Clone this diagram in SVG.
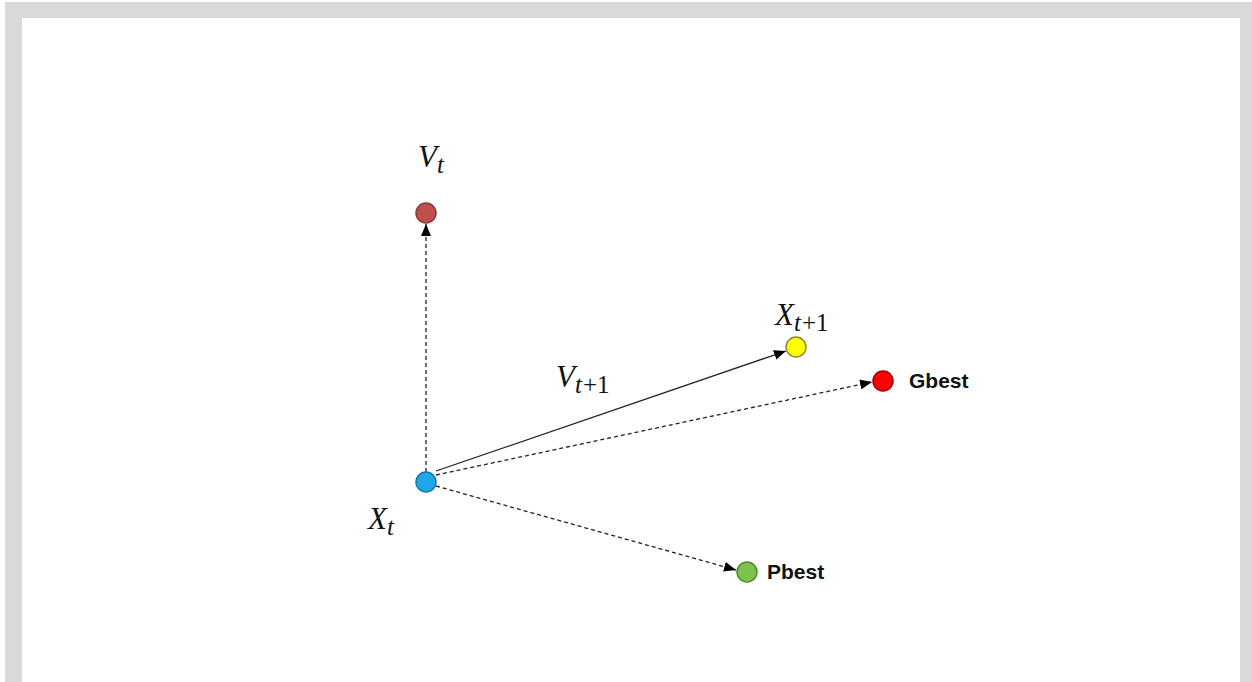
<svg xmlns="http://www.w3.org/2000/svg" width="1252" height="682" viewBox="0 0 1252 682">
<defs>
<marker id="arr" viewBox="0 0 12 10" refX="12" refY="5" markerWidth="12" markerHeight="10" markerUnits="userSpaceOnUse" orient="auto">
<path d="M0,0 L12,5 L0,10 z" fill="#000"/>
</marker>
<style>
.math{font-family:"Liberation Serif","DejaVu Serif",serif;font-style:italic;fill:#111;font-size:31px}
.sub{font-size:25px}
.up{font-style:normal}
.lbl{font-family:"Liberation Sans",Arial,sans-serif;font-weight:bold;font-size:21px;fill:#111}
.dash{stroke:#222;stroke-width:1.3;stroke-dasharray:4,3;fill:none}
.solid{stroke:#222;stroke-width:1.3;fill:none}
</style>
</defs>
<rect x="0" y="0" width="1252" height="682" fill="#fff"/>
<path d="M5,2 H1252 V682 H1240 V18 H22 V682 H5 Z" fill="#d9d9d9"/>
<g id="connectors">
<line class="dash" x1="426" y1="472" x2="426" y2="224" marker-end="url(#arr)"/>
<line class="solid" x1="436" y1="471" x2="786" y2="351" marker-end="url(#arr)"/>
<line class="dash" x1="436" y1="475" x2="872" y2="382" marker-end="url(#arr)"/>
<line class="dash" x1="436" y1="486" x2="736" y2="570" marker-end="url(#arr)"/>
</g>
<g id="node-vt">
<circle cx="426" cy="213" r="10" fill="#c0504d" stroke="#8c3836" stroke-width="1.5"/>
<text class="math" x="418" y="167">V<tspan class="sub" dy="6">t</tspan></text>
</g>
<g id="node-xt">
<circle cx="426" cy="482" r="10" fill="#1ea6e6" stroke="#1577b0" stroke-width="1.5"/>
<text class="math" x="368" y="529">X<tspan class="sub" dy="6">t</tspan></text>
</g>
<g id="node-xt1">
<circle cx="796" cy="347" r="10" fill="#ffff00" stroke="#8a8a2a" stroke-width="1.5"/>
<text class="math" x="775" y="325">X<tspan class="sub" dy="6">t</tspan><tspan class="sub up" dx="1">+1</tspan></text>
</g>
<g id="node-vt1">
<text class="math" x="556" y="387">V<tspan class="sub" dy="6">t</tspan><tspan class="sub up" dx="1">+1</tspan></text>
</g>
<g id="node-gbest">
<circle cx="883" cy="381" r="10" fill="#ff0000" stroke="#a00000" stroke-width="1.5"/>
<text class="lbl" x="909" y="388">Gbest</text>
</g>
<g id="node-pbest">
<circle cx="747" cy="572" r="10" fill="#7cc24c" stroke="#4f8a2c" stroke-width="1.5"/>
<text class="lbl" x="767" y="579">Pbest</text>
</g>
</svg>
